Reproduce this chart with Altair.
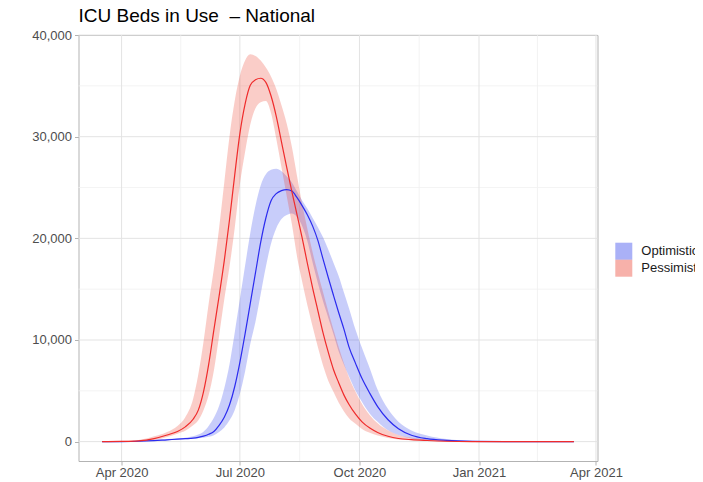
import altair as alt
import pandas as pd

# ---- data ----
dates = ["2020-03-17", "2020-03-31", "2020-04-14", "2020-04-26", "2020-05-06", "2020-05-14", "2020-05-20",
         "2020-05-26", "2020-05-30", "2020-06-03", "2020-06-07", "2020-06-11", "2020-06-15", "2020-06-19",
         "2020-06-23", "2020-06-27", "2020-07-01", "2020-07-05", "2020-07-09", "2020-07-13", "2020-07-17",
         "2020-07-21", "2020-07-25", "2020-07-29", "2020-08-02", "2020-08-06", "2020-08-10", "2020-08-14",
         "2020-08-18", "2020-08-22", "2020-08-26", "2020-08-30", "2020-09-03", "2020-09-07", "2020-09-11",
         "2020-09-15", "2020-09-19", "2020-09-23", "2020-09-28", "2020-10-03", "2020-10-09", "2020-10-15",
         "2020-10-23", "2020-10-31", "2020-11-10", "2020-11-22", "2020-12-07", "2020-12-27", "2021-01-21",
         "2021-02-15", "2021-03-15"]

opt_mid = [0, 10, 40, 100, 180, 240, 290, 340, 420, 540, 720, 1000, 1600, 2400, 3600, 5400, 7800, 10600,
           13600, 16600, 19600, 22000, 23700, 24400, 24700, 24800, 24650, 24000, 23200, 22300, 21200, 19800,
           17950, 16150, 14400, 12700, 11100, 9300, 7700, 6200, 4750, 3450, 2150, 1270, 630, 290, 120, 35, 10, 3, 0]
opt_hi = [0, 25, 80, 170, 250, 320, 390, 520, 700, 980, 1550, 2350, 3500, 5250, 7600, 10700, 14000, 17300,
          20500, 23200, 25200, 26300, 26750, 26850, 26600, 26100, 25500, 24600, 23700, 22900, 22000, 21100,
          20100, 18900, 17600, 16300, 14700, 13100, 11000, 9200, 7200, 5100, 3200, 1950, 1100, 600, 250, 80, 20, 5, 0]
opt_lo = [0, 3, 25, 75, 140, 200, 245, 295, 330, 380, 470, 640, 950, 1400, 2100, 3100, 4700, 6900, 9600,
          11800, 14500, 17200, 19500, 21000, 21900, 22300, 22450, 22100, 21200, 19700, 17600, 15600, 13800,
          12200, 10600, 8900, 7600, 6400, 5000, 3900, 2750, 1950, 1120, 660, 320, 140, 50, 12, 3, 1, 0]

pes_mid = [0, 20, 80, 300, 650, 1000, 1450, 2200, 3100, 4900, 7600, 11000, 14300, 17800, 21800, 26200, 30300,
           33200, 35050, 35600, 35750, 35350, 34000, 32000, 29500, 27000, 24600, 22300, 20000, 17500, 15100,
           12900, 10700, 8800, 7100, 5800, 4600, 3650, 2700, 1950, 1330, 900, 530, 310, 190, 110, 40, 10, 3, 1, 0]
pes_hi = [0, 60, 160, 520, 950, 1550, 2400, 4200, 6600, 9800, 13600, 17000, 21000, 25500, 30000, 33500, 36000,
          37500, 38100, 37950, 37500, 36800, 35900, 34700, 33100, 31300, 29000, 26100, 23300, 20900, 18600,
          16600, 14700, 12800, 11000, 9300, 7700, 6300, 4900, 3700, 2600, 1800, 1100, 650, 380, 200, 80, 25, 6, 2, 0]
pes_lo = [0, 10, 60, 170, 450, 780, 1060, 1600, 2100, 3100, 4600, 7000, 10400, 14000, 17200, 21000, 25300,
          28500, 31200, 32800, 33400, 33500, 32300, 29800, 27000, 24200, 21400, 18200, 15700, 13400, 11300,
          9300, 7500, 6000, 4900, 3850, 3000, 2300, 1750, 1250, 870, 600, 360, 220, 130, 70, 25, 6, 1, 0, 0]

scenarios = ["Optimistic", "Pessimistic"]
x_major = ["2020-04-01", "2020-07-01", "2020-10-01", "2021-01-01", "2021-04-01"]
x_minor = ["2020-05-16T12:00:00Z", "2020-08-16", "2020-11-16", "2021-02-15"]
y_major = [0, 10000, 20000, 30000, 40000]
y_minor = [5000, 15000, 25000, 35000]
title_text = "ICU Beds in Use\u00a0 \u2013 National"

# ---- tables ----
rows = []
for name, lo, mid, hi in [("Optimistic", opt_lo, opt_mid, opt_hi),
                          ("Pessimistic", pes_lo, pes_mid, pes_hi)]:
    for d, l, m, h in zip(dates, lo, mid, hi):
        rows.append({"date": d, "scenario": name, "lo": l, "mid": m, "hi": h})
df = pd.DataFrame(rows)
gx_major = pd.DataFrame({"d": x_major})
gx_minor = pd.DataFrame({"d": x_minor})
gy_major = pd.DataFrame({"v": y_major})
gy_minor = pd.DataFrame({"v": y_minor})

xscale = alt.Scale(type="utc", domain=[alt.DateTime(year=2020, month=2, date=27, hours=20, utc=True),
                                       alt.DateTime(year=2021, month=4, date=2, hours=4, utc=True)])
yscale = alt.Scale(domain=[-1905, 40005], nice=False, zero=False)
xaxis = alt.Axis(values=[alt.DateTime(year=int(s[:4]), month=int(s[5:7]), date=1, utc=True) for s in x_major],
                 format="%b %Y", title=None, labelPadding=1)
yaxis = alt.Axis(values=y_major, format=",d", title=None, labelPadding=3)


def X(field):
    return alt.X(field, type="temporal", scale=xscale, axis=xaxis, title=None)


def Y(field):
    return alt.Y(field, type="quantitative", scale=yscale, axis=yaxis, title=None, stack=None)


grid_minor_x = alt.Chart(gx_minor).mark_rule(color="#f0f0f0", strokeWidth=0.8).encode(x=X("d"))
grid_minor_y = alt.Chart(gy_minor).mark_rule(color="#f0f0f0", strokeWidth=0.8).encode(y=Y("v"))
grid_major_x = alt.Chart(gx_major).mark_rule(color="#e3e3e3", strokeWidth=1).encode(x=X("d"))
grid_major_y = alt.Chart(gy_major).mark_rule(color="#e3e3e3", strokeWidth=1).encode(y=Y("v"))

bands = alt.Chart(df).mark_area(opacity=0.25, interpolate="monotone").encode(
    x=X("date"),
    y=Y("lo"),
    y2=alt.Y2("hi"),
    fill=alt.Fill("scenario:N",
                  scale=alt.Scale(domain=scenarios, range=["#2337eb", "#eb3723"]),
                  legend=alt.Legend(title=None, orient="none", legendX=536.8, legendY=207.7,
                                    symbolType="square", symbolSize=289, symbolOpacity=0.39,
                                    symbolStrokeWidth=0, labelFontSize=13, labelColor="#1a1a1a",
                                    labelFont="Liberation Sans", rowPadding=0, labelOffset=9,
                                    padding=0, labelLimit=300)),
)

lines = alt.Chart(df).mark_line(strokeWidth=1.2, interpolate="monotone").encode(
    x=X("date"),
    y=Y("mid"),
    stroke=alt.Stroke("scenario:N",
                      scale=alt.Scale(domain=scenarios, range=["#2b2bef", "#ef2b2b"]),
                      legend=None),
)

chart = alt.layer(grid_minor_x, grid_minor_y, grid_major_x, grid_major_y, bands, lines).properties(
    width=519,
    height=426,
    autosize="none",
    padding={"left": 70.5, "top": 27, "right": 97.5, "bottom": 24},
    title=alt.TitleParams(title_text, anchor="start", frame="group", fontSize=19,
                          font="Liberation Sans", fontWeight="normal", color="#000000", offset=2.7),
).configure_axis(
    domain=False, grid=False, ticks=True, tickColor="#b3b3b3", tickSize=4, tickWidth=1,
    labelColor="#4d4d4d", labelFont="Liberation Sans", labelFontSize=13,
).configure_view(
    stroke="#b3b3b3", strokeWidth=1,
)

chart.save("out.html", embed_options={"renderer": "svg", "actions": False})
